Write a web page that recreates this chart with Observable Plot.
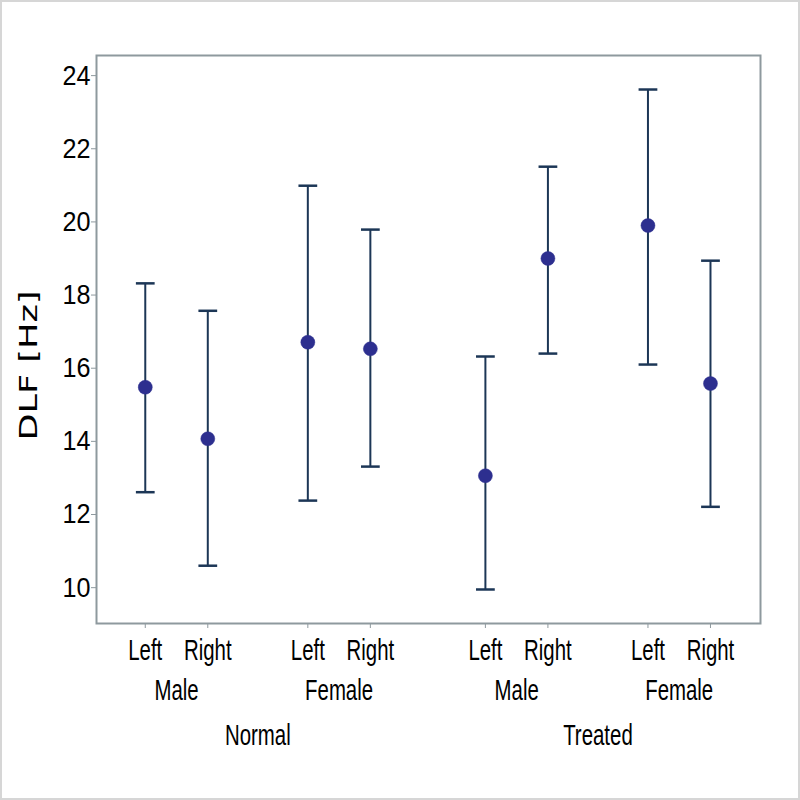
<!DOCTYPE html>
<html>
<head>
<meta charset="utf-8">
<script src="https://cdn.jsdelivr.net/npm/d3@7"></script>
<script src="https://cdn.jsdelivr.net/npm/@observablehq/plot@0.6"></script>
<style>
  html, body { margin: 0; padding: 0; background: #fff; }
  #wrap { position: relative; width: 800px; height: 800px; }
  #edge { position: absolute; left: 0; top: 0; width: 796px; height: 796px; border: 2px solid #d6d6d6; pointer-events: none; }
  #wrap svg text { font-family: "Liberation Sans", Arial, sans-serif; }
  #wrap svg g[aria-description="y label"] text { font-family: "DejaVu Sans", sans-serif; }
</style>
</head>
<body>
<div id="wrap"><div id="edge"></div></div>
<script>
// Interval plot of DLF by treatment, sex and side: mean with interval bounds
const treatment = ["Normal", "Normal", "Normal", "Normal", "Treated", "Treated", "Treated", "Treated"];
const sex       = ["Male", "Male", "Female", "Female", "Male", "Male", "Female", "Female"];
const side      = ["Left", "Right", "Left", "Right", "Left", "Right", "Left", "Right"];
const meanDLF   = [15.48, 14.07, 16.71, 16.53, 13.06, 19.00, 19.90, 15.58];
const lowerDLF  = [12.61, 10.60, 12.38, 13.31, 9.95, 16.40, 16.10, 12.21];
const upperDLF  = [18.32, 17.57, 20.99, 19.79, 16.32, 21.51, 23.62, 18.94];
const yTicks    = [10, 12, 14, 16, 18, 20, 22, 24];

// horizontal slot: side within sex, sex within treatment, with wider gaps between groups
const sexGap = 2.6, treatGap = 5.44;
const slot = (t, s, d) => (d === "Right" ? 1 : 0) + (s === "Female" ? sexGap : 0) + (t === "Treated" ? treatGap : 0);

const rows = side.map((d, i) => ({
  treatment: treatment[i], sex: sex[i], side: d,
  pos: slot(treatment[i], sex[i], d),
  mean: meanDLF[i], lo: lowerDLF[i], hi: upperDLF[i]
}));

const sideLabel = new Map(rows.map(r => [r.pos, r.side]));

const sexGroups = d3.groups(rows, r => r.treatment + "|" + r.sex).map(([k, g]) => ({
  label: g[0].sex, pos: d3.mean(g, r => r.pos)
}));
const treatGroups = d3.groups(rows, r => r.treatment).map(([k, g]) => ({
  label: k, pos: d3.mean(g, r => r.pos)
}));

const capHalf = 0.15;
const lineColor = "#1c3656";
const dotColor = "#2d2f8f";
const frameColor = "#8e999e";

const chart = Plot.plot({
  width: 800,
  height: 800,
  marginTop: 55,
  marginBottom: 177,
  marginLeft: 96,
  marginRight: 40,
  style: { background: "transparent", color: "#000" },
  x: { domain: [-0.78, 9.84], axis: null },
  y: { domain: [9.02, 24.55], axis: null },
  marks: [
    Plot.axisY({
      ticks: yTicks, tickFormat: d => String(d),
      tickSize: 5, tickPadding: 1, fontSize: 28, stroke: frameColor, color: "#000", label: null
    }),
    Plot.axisX({
      ticks: rows.map(r => r.pos), tickFormat: p => sideLabel.get(p),
      tickSize: 5, tickPadding: 10, fontSize: 30, stroke: frameColor, label: null
    }),
    Plot.text(sexGroups, {
      x: "pos", text: "label", frameAnchor: "bottom", dy: 76, fontSize: 30,
      ariaDescription: "group label", fill: "#000"
    }),
    Plot.text(treatGroups, {
      x: "pos", text: "label", frameAnchor: "bottom", dy: 121, fontSize: 30,
      ariaDescription: "group label", fill: "#000"
    }),
    Plot.text(["DLF [Hz]"], {
      text: d => d, frameAnchor: "left", textAnchor: "middle", dx: -67, dy: 26, rotate: -90, fontSize: 24,
      ariaDescription: "y label", fill: "#000"
    }),
    Plot.frame({ stroke: frameColor, strokeWidth: 2 }),
    Plot.ruleX(rows, { x: "pos", y1: "lo", y2: "hi", stroke: lineColor, strokeWidth: 2 }),
    Plot.link(rows, { x1: r => r.pos - capHalf, x2: r => r.pos + capHalf, y1: "hi", y2: "hi", stroke: lineColor, strokeWidth: 2.5 }),
    Plot.link(rows, { x1: r => r.pos - capHalf, x2: r => r.pos + capHalf, y1: "lo", y2: "lo", stroke: lineColor, strokeWidth: 2.5 }),
    Plot.dot(rows, { x: "pos", y: "mean", r: 7, fill: dotColor, stroke: dotColor, strokeWidth: 0.5 })
  ]
});

document.getElementById("wrap").prepend(chart);

// narrow the category and tick lettering
const squeeze = (selector, factor) => {
  chart.querySelectorAll(selector).forEach(t => {
    const w = t.getComputedTextLength();
    t.setAttribute("textLength", (w * factor).toFixed(1));
    t.setAttribute("lengthAdjust", "spacingAndGlyphs");
  });
};
squeeze('g[aria-label="x-axis tick label"] text', 0.68);
squeeze('g[aria-description="group label"] text', 0.68);
squeeze('g[aria-label="y-axis tick label"] text', 0.9);

// widen the axis title glyphs along its run
chart.querySelectorAll('g[aria-description="y label"] text').forEach(t => {
  const w = t.getComputedTextLength();
  const k = 150 / w;
  t.setAttribute("transform", (t.getAttribute("transform") || "") + ` scale(${k.toFixed(3)},1)`);
});
</script>
</body>
</html>
